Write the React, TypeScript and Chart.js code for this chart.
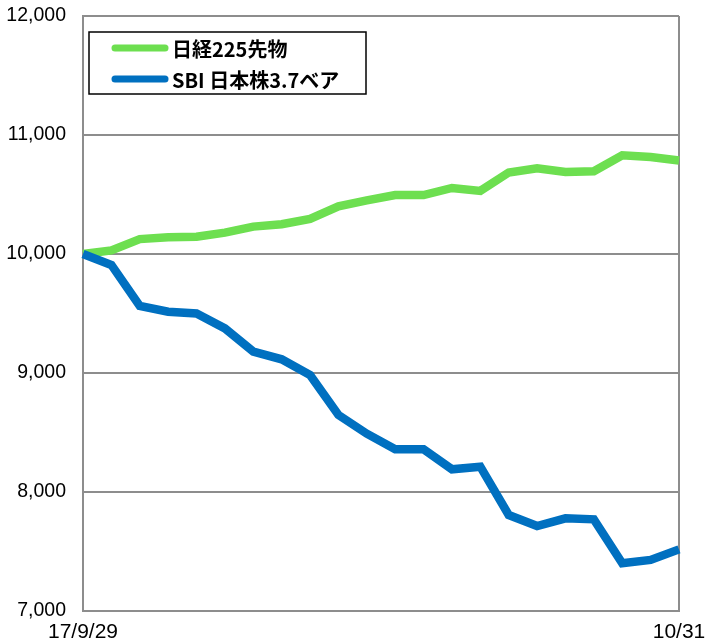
import React, { useEffect, useRef } from "react";
import { Chart, registerables } from "chart.js";

Chart.register(...registerables);

const dates = [
  "17/9/29", "10/2", "10/3", "10/4", "10/5", "10/6", "10/10", "10/11", "10/12", "10/13", "10/16",
  "10/17", "10/18", "10/19", "10/20", "10/23", "10/24", "10/25", "10/26", "10/27", "10/30", "10/31",
];
const shownXTicks = ["17/9/29", "10/31"];

const nikkei = [
  10000, 10030, 10125, 10140, 10145, 10180, 10230, 10250, 10295, 10400, 10450,
  10495, 10495, 10555, 10530, 10685, 10720, 10690, 10695, 10830, 10815, 10785,
];
const bear = [
  10000, 9908, 9563, 9515, 9500, 9375, 9180, 9115, 8983, 8647, 8490,
  8360, 8360, 8191, 8213, 7807, 7714, 7779, 7770, 7401, 7429, 7518,
];

const seriesNames = ["日経225先物", "SBI 日本株3.7ベア"];
const seriesColors = ["#6ddf50", "#0070c0"];

const yMin = 7000;
const yMax = 12000;
const yStep = 1000;

const GRID = "#8d8d8d";

const legendPlugin = {
  id: "insideLegend",
  afterDraw(chart: any) {
    const { ctx, chartArea } = chart;
    const x = chartArea.left + 6;
    const y = chartArea.top + 16;
    const w = 277;
    const h = 62;
    ctx.save();
    ctx.fillStyle = "#ffffff";
    ctx.fillRect(x, y, w, h);
    ctx.strokeStyle = "#000000";
    ctx.lineWidth = 1.5;
    ctx.strokeRect(x, y, w, h);
    const rows = [y + 16, y + 47];
    chart.data.datasets.forEach((ds: any, i: number) => {
      const ry = rows[i];
      ctx.beginPath();
      ctx.strokeStyle = ds.borderColor;
      ctx.lineWidth = 7;
      ctx.lineCap = "round";
      ctx.moveTo(x + 26, ry);
      ctx.lineTo(x + 76, ry);
      ctx.stroke();
      ctx.fillStyle = "#000000";
      ctx.font = "bold 20px 'Noto Sans CJK JP'";
      ctx.textBaseline = "middle";
      ctx.textAlign = "left";
      ctx.fillText(ds.label, x + 83, ry + 1);
    });
    ctx.restore();
  },
};

export default function App() {
  const ref = useRef<HTMLCanvasElement | null>(null);

  useEffect(() => {
    if (!ref.current) return;
    const chart = new Chart(ref.current, {
      type: "line",
      data: {
        labels: dates,
        datasets: [
          {
            label: seriesNames[0],
            data: nikkei,
            borderColor: seriesColors[0],
            backgroundColor: seriesColors[0],
            borderWidth: 8.5,
            pointRadius: 0,
            tension: 0,
            order: 1,
          },
          {
            label: seriesNames[1],
            data: bear,
            borderColor: seriesColors[1],
            backgroundColor: seriesColors[1],
            borderWidth: 8.5,
            pointRadius: 0,
            tension: 0,
            order: 0,
          },
        ],
      },
      options: {
        animation: false,
        responsive: true,
        maintainAspectRatio: false,
        layout: { padding: { left: 0, right: 26, top: 16, bottom: 0 } },
        plugins: {
          legend: { display: false },
          tooltip: { enabled: false },
        },
        scales: {
          x: {
            type: "category",
            offset: false,
            grid: {
              drawTicks: false,
              lineWidth: 2,
              color: (c: any) =>
                c.index === 0 || c.index === dates.length - 1 ? GRID : "rgba(0,0,0,0)",
            },
            border: { display: true, color: GRID, width: 2 },
            ticks: {
              autoSkip: false,
              maxRotation: 0,
              minRotation: 0,
              padding: 9,
              color: "#000",
              font: { family: "'Liberation Sans'", size: 21 },
              callback: function (_v: any, i: number) {
                const l = dates[i];
                return shownXTicks.includes(l) ? l : "";
              },
            },
            afterFit: (s: any) => {
              s.height = 32;
              s.paddingLeft = 0;
              s.paddingRight = 0;
            },
          },
          y: {
            min: yMin,
            max: yMax,
            grid: { drawTicks: false, lineWidth: 2, color: GRID },
            border: { display: true, color: GRID, width: 2 },
            ticks: {
              stepSize: yStep,
              padding: 17,
              color: "#000",
              font: { family: "'Liberation Sans'", size: 19.5 },
              callback: (v: any) => Number(v).toLocaleString("en-US"),
            },
            afterFit: (s: any) => {
              s.width = 83;
              s.paddingTop = 0;
              s.paddingBottom = 0;
            },
          },
        },
      },
      plugins: [legendPlugin],
    });
    return () => chart.destroy();
  }, []);

  return (
    <div style={{ position: "fixed", left: 0, top: 0, width: 705, height: 643, background: "#fff" }}>
      <canvas ref={ref} />
    </div>
  );
}
